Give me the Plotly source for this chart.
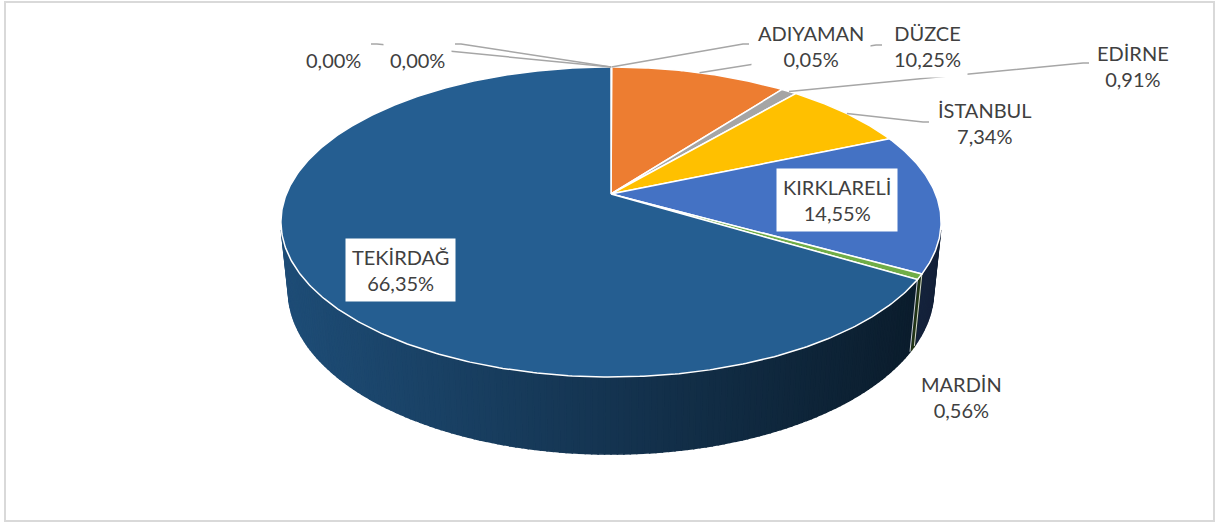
import numpy as np
import plotly.graph_objects as go

# data (share of total, %)
provinces = ['ADIYAMAN', 'DÜZCE', 'EDİRNE', 'İSTANBUL', 'KIRKLARELİ', 'MARDİN', 'TEKİRDAĞ', '', '']
shares = [0.05, 10.25, 0.91, 7.34, 14.55, 0.56, 66.35, 0.00, 0.00]
colors = ['#5B9BD5', '#ED7D31', '#A5A5A5', '#FFC000', '#4472C4', '#70AD47', '#255E91', '#9E480E', '#636363']

# label placement (block centre) and leader start point
label_xy = [(811, 46), (927, 46), (1133, 66), (985, 123), (837, 200), (961, 397), (400, 270), (333, 47), (417, 47)]
leader_from = [(749, 44), (882, 45), (1089, 63), (929, 122), None, None, None, (371, 44), (455, 44)]

# 3d pie geometry (perspective camera), pixel units
R, D, ELEV, F, H = 1.0, 4.91, np.radians(27.5), 1594.0, 0.2395
CX, CY = 611, 194


def proj(phi, z):
    x = R * np.sin(phi)
    y = R * np.cos(phi)
    depth = y * np.cos(ELEV) - z * np.sin(ELEV) + D
    up = y * np.sin(ELEV) + z * np.cos(ELEV)
    return CX + F * x / depth, CY - F * up / depth


def shade(hexcol, k):
    h = hexcol.lstrip('#')
    r, g, b = [int(h[i:i + 2], 16) for i in (0, 2, 4)]
    return 'rgb(%d,%d,%d)' % (min(255, r * k), min(255, g * k), min(255, b * k))


vals = np.array(shares)
ang = np.concatenate([[0], np.cumsum(vals)]) / vals.sum() * 2 * np.pi

fig = go.Figure()

# side wall (only the part facing the camera)
lo = np.arccos(-R / (D * np.cos(ELEV)))
hi = 2 * np.pi - lo
edges = np.linspace(lo, hi, 161)
cuts = [a for a in ang if lo < a < hi]
edges = np.unique(np.concatenate([edges, cuts]))
for p0, p1 in zip(edges[:-1], edges[1:]):
    pm = (p0 + p1) / 2
    i = int(np.searchsorted(ang, pm) - 1)
    ph = np.array([p0, p1, p1, p0, p0])
    zz = np.array([0, 0, -H, -H, 0])
    xs, ys = proj(ph, zz)
    sx_mid = proj(pm, 0)[0] - CX
    col = shade(colors[i], 0.555 - 0.0008 * sx_mid)
    fig.add_trace(go.Scatter(x=xs, y=ys, mode='lines', fill='toself', fillcolor=col,
                             line=dict(color=col, width=1.6), hoverinfo='skip'))

for a in cuts:
    xs, ys = proj(np.array([a, a]), np.array([0, -H]))
    fig.add_trace(go.Scatter(x=xs, y=ys, mode='lines', line=dict(color='rgba(255,255,255,0.8)', width=1),
                             hoverinfo='skip'))

# top faces
for i in range(len(vals)):
    if ang[i + 1] - ang[i] <= 0:
        continue
    ph = np.linspace(ang[i], ang[i + 1], max(3, int((ang[i + 1] - ang[i]) / 0.01)))
    ax, ay = proj(ph, 0)
    xs = np.concatenate([[CX], ax, [CX]])
    ys = np.concatenate([[CY], ay, [CY]])
    fig.add_trace(go.Scatter(x=xs, y=ys, mode='lines', fill='toself', fillcolor=colors[i],
                             line=dict(color='white', width=1.5), hoverinfo='skip'))

# leader lines
for i, src in enumerate(leader_from):
    if src is None:
        continue
    mid = (ang[i] + ang[i + 1]) / 2
    tx, ty = proj(mid, 0)
    step = -6 if tx < src[0] else 6
    fig.add_trace(go.Scatter(x=[src[0], src[0] + step, tx], y=[src[1], src[1], ty], mode='lines',
                             line=dict(color='#A6A6A6', width=1.5), hoverinfo='skip'))

# labels
for i, name in enumerate(provinces):
    pct = ('%.2f' % shares[i]).replace('.', ',') + '%'
    first = name if name else '\u00a0'
    fig.add_annotation(x=label_xy[i][0], y=label_xy[i][1], text=first + '<br>' + pct,
                       showarrow=False, font=dict(family='Lato', size=20, color='#404040'),
                       bgcolor='white', borderpad=6, xanchor='center', yanchor='middle')

fig.add_shape(type='rect', x0=5, y0=2, x1=1214, y1=521, line=dict(color='#D9D9D9', width=2))

fig.update_layout(
    width=1219, height=523,
    margin=dict(l=0, r=0, t=0, b=0),
    paper_bgcolor='white', plot_bgcolor='white',
    showlegend=False,
    xaxis=dict(range=[0, 1219], visible=False, fixedrange=True),
    yaxis=dict(range=[523, 0], visible=False, fixedrange=True),
)
fig.write_html('out.html', config={'displayModeBar': False},
               post_script="document.body.style.margin='0';")
